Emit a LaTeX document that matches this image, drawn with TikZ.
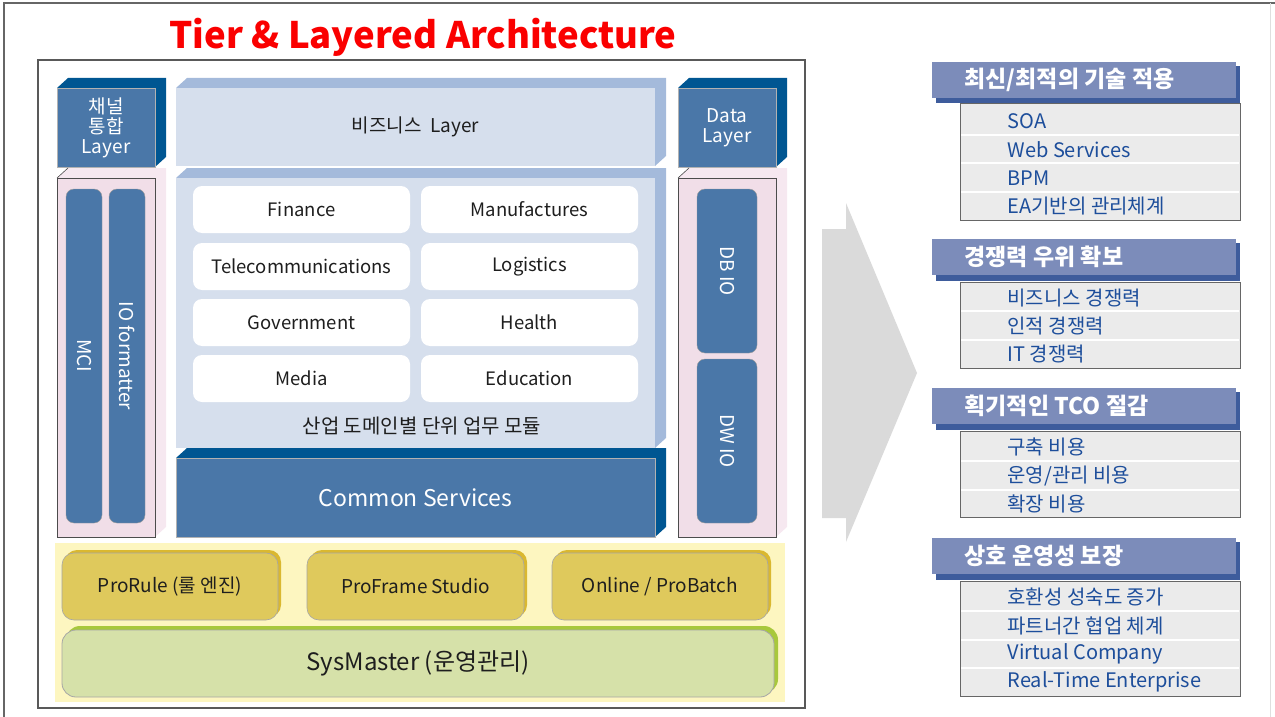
\documentclass[tikz,border=0pt]{standalone}
\usepackage{fontspec}
\setmainfont{Noto Sans CJK KR}
\begin{document}
\definecolor{bfront}{RGB}{74,119,168}
\definecolor{bdark}{RGB}{0,86,146}
\definecolor{lfront}{RGB}{214,223,237}
\definecolor{ldepth}{RGB}{164,186,219}
\definecolor{pfront}{RGB}{241,222,232}
\definecolor{pdepth}{RGB}{246,232,240}
\definecolor{ybg}{RGB}{253,246,192}
\definecolor{gold}{RGB}{223,201,92}
\definecolor{goldsh}{RGB}{218,184,48}
\definecolor{lgreen}{RGB}{214,225,169}
\definecolor{greensh}{RGB}{168,200,60}
\definecolor{hdr}{RGB}{124,140,186}
\definecolor{hdrsh}{RGB}{62,92,156}
\definecolor{rowbg}{RGB}{235,235,235}
\definecolor{itemtxt}{RGB}{29,78,155}
\definecolor{arrowgray}{RGB}{218,218,218}
\definecolor{titlered}{RGB}{250,0,0}
\definecolor{txt}{RGB}{30,30,30}
\newcommand\depthfaces[5]{%
  \fill[#5] (#1,#2) -- (#1+11,#2-10) -- (#3+11,#2-10) -- (#3+11,#4-10) -- (#3,#4) -- (#3,#2) -- cycle;}
\begin{tikzpicture}[x=1pt,y=-1pt,
  box/.style={anchor=north west, inner sep=0pt, outer sep=0pt},
  bluebox/.style={box, fill=bfront, draw=gray!60, line width=0.4pt, text=white, font=\fontsize{19}{22}\selectfont, align=center},
  lightbox/.style={box, fill=lfront, text=txt},
  pinkbox/.style={box, fill=pfront, draw=black!70, line width=0.8pt},
  bar/.style={box, fill=bfront, rounded corners=8pt, draw=black!40, line width=0.4pt},
  bartxt/.style={text=white, rotate=-90, font=\fontsize{19}{22}\selectfont},
  mod/.style={box, fill=white, rounded corners=9pt, text=txt, font=\fontsize{18.5}{22}\selectfont},
  goldsh/.style={box, fill=goldsh, rounded corners=12pt},
  goldbox/.style={box, fill=gold, rounded corners=12pt, draw=gray!70, line width=0.6pt, text=txt, font=\fontsize{19}{22}\selectfont},
  hdrbox/.style={box, fill=hdr},
  hdrtxt/.style={anchor=west, text=white, font=\fontsize{23}{26}\selectfont\bfseries},
  items/.style={box, fill=rowbg, draw=gray!80!black, line width=0.8pt},
  itemtxt/.style={anchor=west, text=itemtxt, font=\fontsize{20}{24}\selectfont},
  sep/.style={white, line width=1.5pt}]
\useasboundingbox (0,0) rectangle (1275,717);
% outer frame
\draw[gray!80!black, line width=1.2pt] (4,717) -- (4,3) -- (1275,3);
\draw[gray!25, line width=0.8pt] (1270,3) -- (1270,717);
% title
\node[text=titlered, font=\fontsize{36.5}{40}\selectfont\bfseries] (title) at (423,37) {Tier \& Layered Architecture};
% left frame
\node[box, draw=gray!70!black, line width=1.4pt, minimum width=767pt, minimum height=648pt] (frame) at (38,60) {};
% channel box
\depthfaces{57}{88}{155}{167}{bdark}
\node[bluebox, minimum width=98pt, minimum height=79pt] (ch) at (57,88) {채널\\[-2pt]통합\\[-2pt]Layer};
% business layer
\depthfaces{176}{88}{655}{166}{ldepth}
\node[lightbox, minimum width=479pt, minimum height=78pt, font=\fontsize{19}{22}\selectfont] (bl) at (176,88) {비즈니스\ \ Layer};
% domain block
\depthfaces{176}{178}{655}{448}{ldepth}
\node[lightbox, minimum width=479pt, minimum height=270pt] (dom) at (176,178) {};
\node[text=txt, font=\fontsize{20}{22}\selectfont] (domt) at (422,426) {산업 도메인별 단위 업무 모듈};
% modules
\node[mod, minimum width=217pt, minimum height=47pt] (m1) at (193,186) {Finance};
\node[mod, minimum width=217pt, minimum height=47pt] (m2) at (421,186) {Manufactures};
\node[mod, minimum width=217pt, minimum height=47pt] (m3) at (193,243) {Telecommunications};
\node[mod, minimum width=217pt, minimum height=47pt] (m4) at (421,243) {Logistics};
\node[mod, minimum width=217pt, minimum height=47pt] (m5) at (193,299) {Government};
\node[mod, minimum width=217pt, minimum height=47pt] (m6) at (421,299) {Health};
\node[mod, minimum width=217pt, minimum height=47pt] (m7) at (193,355) {Media};
\node[mod, minimum width=217pt, minimum height=47pt] (m8) at (421,355) {Education};
% common services
\depthfaces{176}{458}{655}{537}{bdark}
\node[bluebox, minimum width=479pt, minimum height=79pt, font=\fontsize{23}{26}\selectfont] (cs) at (176,458) {Common Services};
% data layer
\depthfaces{678}{88}{776}{167}{bdark}
\node[bluebox, minimum width=98pt, minimum height=79pt] (dl) at (678,88) {Data\\[-2pt]Layer};
% left pink column
\depthfaces{57}{178}{155}{537}{pdepth}
\draw[black!70, line width=0.6pt] (57,178) -- (68,168);
\node[pinkbox, minimum width=98pt, minimum height=359pt] (lp) at (57,178) {};
\node[bar, minimum width=36pt, minimum height=334pt] (mci) at (66,189) {};
\node[bartxt] (mcit) at (mci.center) {MCI};
\node[bar, minimum width=36pt, minimum height=334pt] (iof) at (109,189) {};
\node[bartxt] (ioft) at (iof.center) {IO formatter};
% right pink column
\depthfaces{678}{178}{776}{537}{pdepth}
\draw[black!70, line width=0.6pt] (678,178) -- (689,168);
\node[pinkbox, minimum width=98pt, minimum height=359pt] (rp) at (678,178) {};
\node[bar, minimum width=60pt, minimum height=164pt] (dbio) at (697,189) {};
\node[bartxt] (dbiot) at (dbio.center) {DB IO};
\node[bar, minimum width=60pt, minimum height=164pt] (dwio) at (697,359) {};
\node[bartxt] (dwiot) at (dwio.center) {DW IO};
% bottom yellow area
\node[box, fill=ybg, minimum width=730pt, minimum height=159pt] (ybgn) at (55,543) {};
\node[goldsh, minimum width=216pt, minimum height=67pt] (g1s) at (65,550) {};
\node[goldbox, minimum width=216pt, minimum height=67pt] (g1) at (62,553) {ProRule (룰 엔진)};
\node[goldsh, minimum width=217pt, minimum height=67pt] (g2s) at (310,550) {};
\node[goldbox, minimum width=217pt, minimum height=67pt] (g2) at (307,553) {ProFrame Studio};
\node[goldsh, minimum width=216pt, minimum height=67pt] (g3s) at (555,550) {};
\node[goldbox, minimum width=216pt, minimum height=67pt] (g3) at (552,553) {Online / ProBatch};
\node[box, fill=greensh, rounded corners=14pt, minimum width=712pt, minimum height=67pt] (sms) at (66,626) {};
\node[box, fill=lgreen, rounded corners=14pt, draw=gray!70, line width=0.8pt, minimum width=712pt, minimum height=67pt, text=txt, font=\fontsize{24}{26}\selectfont] (sm) at (62,630) {SysMaster (운영관리)};
% big arrow
\fill[arrowgray] (822,229) -- (846,229) -- (846,203) -- (917,373) -- (846,542) -- (846,518) -- (822,518) -- cycle;
% panel 1
\fill[hdrsh] (936,66) rectangle (1240,103);
\node[hdrbox, minimum width=304pt, minimum height=36pt] (h1) at (932,62) {};
\node[hdrtxt] (h1t) at (961,80) {최신/최적의 기술 적용};
\node[items, minimum width=280pt, minimum height=117pt] (i1) at (960,103) {};
\draw[sep] (961,135) -- (1239,135) (961,163) -- (1239,163) (961,192) -- (1239,192);
\node[itemtxt] (i1a) at (1004,121) {SOA};
\node[itemtxt] (i1b) at (1004,150) {Web Services};
\node[itemtxt] (i1c) at (1004,178) {BPM};
\node[itemtxt] (i1d) at (1004,206) {EA기반의 관리체계};
% panel 2
\fill[hdrsh] (936,243) rectangle (1240,281);
\node[hdrbox, minimum width=304pt, minimum height=36pt] (h2) at (932,239) {};
\node[hdrtxt] (h2t) at (961,257) {경쟁력 우위 확보};
\node[items, minimum width=280pt, minimum height=86pt] (i2) at (960,282) {};
\draw[sep] (961,311) -- (1239,311) (961,340) -- (1239,340);
\node[itemtxt] (i2a) at (1004,298) {비즈니스 경쟁력};
\node[itemtxt] (i2b) at (1004,326) {인적 경쟁력};
\node[itemtxt] (i2c) at (1004,354) {IT 경쟁력};
% panel 3
\fill[hdrsh] (936,392) rectangle (1240,430);
\node[hdrbox, minimum width=304pt, minimum height=36pt] (h3) at (932,388) {};
\node[hdrtxt] (h3t) at (961,406) {획기적인 TCO 절감};
\node[items, minimum width=280pt, minimum height=86pt] (i3) at (960,431) {};
\draw[sep] (961,461) -- (1239,461) (961,490) -- (1239,490);
\node[itemtxt] (i3a) at (1004,447) {구축 비용};
\node[itemtxt] (i3b) at (1004,476) {운영/관리 비용};
\node[itemtxt] (i3c) at (1004,504) {확장 비용};
% panel 4
\fill[hdrsh] (936,542) rectangle (1240,580);
\node[hdrbox, minimum width=304pt, minimum height=36pt] (h4) at (932,538) {};
\node[hdrtxt] (h4t) at (961,556) {상호 운영성 보장};
\node[items, minimum width=280pt, minimum height=115pt] (i4) at (960,581) {};
\draw[sep] (961,611) -- (1239,611) (961,640) -- (1239,640) (961,668) -- (1239,668);
\node[itemtxt] (i4a) at (1004,597) {호환성 성숙도 증가};
\node[itemtxt] (i4b) at (1004,626) {파트너간 협업 체계};
\node[itemtxt] (i4c) at (1004,654) {Virtual Company};
\node[itemtxt] (i4d) at (1004,682) {Real-Time Enterprise};
\end{tikzpicture}
\end{document}
